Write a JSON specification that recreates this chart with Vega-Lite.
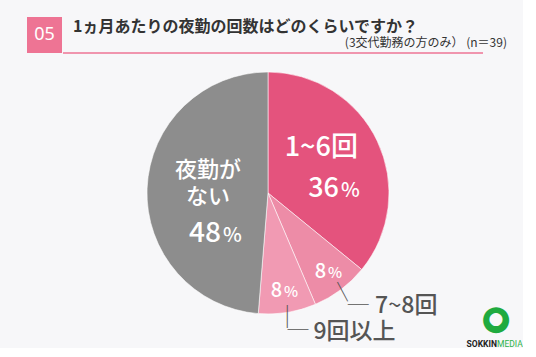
{
  "$schema": "https://vega.github.io/schema/vega-lite/v6.json",
  "background": "#f7f7f9",
  "padding": {"left": 27, "top": 17, "right": 0, "bottom": 0},
  "config": {"view": {"stroke": null}, "font": "Noto Sans CJK JP"},
  "datasets": {
    "answers": [
      {"category": "1~6回", "label": "1~6回", "count": 14, "percent": 36},
      {"category": "7~8回", "label": "7~8回", "count": 3, "percent": 8},
      {"category": "9回以上", "label": "9回以上", "count": 3, "percent": 8},
      {"category": "夜勤がない", "label": "夜勤が\nない", "count": 19, "percent": 48}
    ],
    "header": [
      {"no": "05", "question": "1ヵ月あたりの夜勤の回数はどのくらいですか？", "note": "(3交代勤務の方のみ） (n＝39)"}
    ],
    "brand": [{"a": "SOKKIN", "b": "MEDIA"}]
  },
  "spacing": 10,
  "vconcat": [
    {
      "spacing": 0,
      "hconcat": [
        {
          "width": 35,
          "height": 36,
          "view": {"fill": "#ee7494", "stroke": null},
          "data": {"name": "header"},
          "mark": {"type": "text", "color": "#ffffff", "fontSize": 18, "font": "Noto Sans", "baseline": "middle"},
          "encoding": {"text": {"field": "no"}}
        },
        {
          "width": 420,
          "height": 36,
          "data": {"name": "header"},
          "layer": [
            {
              "mark": {"type": "text", "align": "left", "baseline": "middle", "dx": -200, "dy": -8, "fontSize": 16, "fontWeight": "bold", "color": "#333333"},
              "encoding": {"text": {"field": "question"}}
            },
            {
              "mark": {"type": "text", "align": "right", "baseline": "middle", "dx": 234, "dy": 8, "fontSize": 12, "color": "#333333"},
              "encoding": {"text": {"field": "note"}}
            },
            {
              "mark": {"type": "rule", "color": "#ee7494", "strokeWidth": 1.5},
              "encoding": {"y": {"datum": 0, "type": "quantitative", "scale": {"domain": [0, 1]}, "axis": null}}
            }
          ]
        }
      ]
    },
    {
      "width": 482,
      "height": 258,
      "layer": [
        {
          "data": {"name": "answers"},
          "encoding": {
            "theta": {"field": "count", "type": "quantitative", "stack": true},
            "order": {"field": "category", "type": "ordinal", "sort": "ascending"}
          },
          "layer": [
            {
              "mark": {"type": "arc", "outerRadius": 121, "stroke": "#ffffff", "strokeWidth": 0.8, "strokeOpacity": 0.7},
              "encoding": {
                "color": {"field": "category", "type": "nominal", "scale": {"domain": ["1~6回", "7~8回", "9回以上", "夜勤がない"], "range": ["#e4537d", "#ed8ca7", "#f19ab3", "#8d8d8d"]}, "legend": null}
              }
            },
            {
              "mark": {"type": "text", "radius": 59, "dy": -20, "fontSize": 27, "font": "'Noto Sans CJK JP Medium', 'Noto Sans CJK JP'", "color": "#ffffff", "baseline": "middle"},
              "encoding": {
                "detail": {"field": "category"},
                "text": {"condition": {"test": "datum.category === '1~6回'", "field": "label"}, "value": ""}
              }
            },
            {
              "mark": {"type": "text", "radius": 60, "dy": -21, "fontSize": 22, "lineHeight": 27, "lineBreak": "\n", "font": "'Noto Sans CJK JP Medium', 'Noto Sans CJK JP'", "color": "#ffffff", "baseline": "middle"},
              "encoding": {
                "detail": {"field": "category"},
                "text": {"condition": {"test": "datum.category === '夜勤がない'", "field": "label"}, "value": ""}
              }
            },
            {
              "mark": {"type": "text", "radius": 78.6, "dy": 38, "fontSize": 27, "font": "'Noto Sans CJK JP Medium', 'Noto Sans CJK JP'", "color": "#ffffff", "align": "right", "baseline": "alphabetic"},
              "encoding": {
                "detail": {"field": "category"},
                "text": {"condition": {"test": "datum.category === '1~6回'", "field": "percent"}, "value": ""}
              }
            },
            {
              "mark": {"type": "text", "radius": 78.6, "dy": 38, "dx": 2, "fontSize": 20, "font": "'Noto Sans CJK JP Medium', 'Noto Sans CJK JP'", "color": "#ffffff", "align": "left", "baseline": "alphabetic"},
              "encoding": {
                "detail": {"field": "category"},
                "text": {"condition": {"test": "datum.category === '1~6回'", "value": "%"}, "value": ""}
              }
            },
            {
              "mark": {"type": "text", "radius": 47, "dy": 50.6, "fontSize": 28, "font": "'Noto Sans CJK JP Medium', 'Noto Sans CJK JP'", "color": "#ffffff", "align": "right", "baseline": "alphabetic"},
              "encoding": {
                "detail": {"field": "category"},
                "text": {"condition": {"test": "datum.category === '夜勤がない'", "field": "percent"}, "value": ""}
              }
            },
            {
              "mark": {"type": "text", "radius": 47, "dy": 50.6, "dx": 2, "fontSize": 20, "font": "'Noto Sans CJK JP Medium', 'Noto Sans CJK JP'", "color": "#ffffff", "align": "left", "baseline": "alphabetic"},
              "encoding": {
                "detail": {"field": "category"},
                "text": {"condition": {"test": "datum.category === '夜勤がない'", "value": "%"}, "value": ""}
              }
            },
            {
              "mark": {"type": "text", "radius": 100, "dx": -2, "dy": 5, "fontSize": 20, "font": "'Noto Sans CJK JP Medium', 'Noto Sans CJK JP'", "color": "#ffffff", "align": "right", "baseline": "alphabetic"},
              "encoding": {
                "detail": {"field": "category"},
                "text": {"condition": {"test": "datum.count < 10", "field": "percent"}, "value": ""}
              }
            },
            {
              "mark": {"type": "text", "radius": 100, "dx": 0, "dy": 5, "fontSize": 15, "font": "'Noto Sans CJK JP Medium', 'Noto Sans CJK JP'", "color": "#ffffff", "align": "left", "baseline": "alphabetic"},
              "encoding": {
                "detail": {"field": "category"},
                "text": {"condition": {"test": "datum.count < 10", "value": "%"}, "value": ""}
              }
            },
            {
              "mark": {"type": "text", "radius": 140, "dx": 23, "dy": 1, "fontSize": 23, "font": "'Noto Sans CJK JP Medium', 'Noto Sans CJK JP'", "color": "#555555", "align": "left", "baseline": "middle"},
              "encoding": {
                "detail": {"field": "category"},
                "text": {"condition": {"test": "datum.count < 10", "field": "label"}, "value": ""}
              }
            },
            {
              "mark": {"type": "text", "radius": 125, "fontSize": 22, "angle": -28, "color": "#555555", "align": "center", "baseline": "middle"},
              "encoding": {
                "detail": {"field": "category"},
                "text": {"condition": {"test": "datum.category === '7~8回'", "value": "│"}, "value": ""}
              }
            },
            {
              "mark": {"type": "text", "radius": 127, "dx": -1, "fontSize": 23, "angle": 0, "color": "#555555", "align": "center", "baseline": "middle"},
              "encoding": {
                "detail": {"field": "category"},
                "text": {"condition": {"test": "datum.category === '9回以上'", "value": "│"}, "value": ""}
              }
            },
            {
              "mark": {"type": "text", "radius": 137, "dx": 8, "dy": 3, "fontSize": 21, "color": "#555555", "align": "center", "baseline": "middle"},
              "encoding": {
                "detail": {"field": "category"},
                "text": {"condition": {"test": "datum.count < 10", "value": "─"}, "value": ""}
              }
            }
          ]
        },
        {
          "data": {"name": "brand"},
          "layer": [
            {"mark": {"type": "text", "text": "●", "font": "DejaVu Sans", "fontSize": 34, "color": "#1faa3f", "dx": 228, "dy": 125.5, "baseline": "middle", "align": "center"}},
            {"mark": {"type": "text", "text": "●", "font": "DejaVu Sans", "fontSize": 17, "color": "#f7f7f9", "dx": 228, "dy": 125.5, "baseline": "middle", "align": "center"}},
            {"mark": {"type": "text", "fontSize": 8.5, "fontWeight": "bold", "font": "Roboto", "color": "#222222", "dx": 229, "dy": 150.5, "align": "right", "baseline": "middle"}, "encoding": {"text": {"field": "a"}}},
            {"mark": {"type": "text", "fontSize": 8.5, "font": "Roboto", "color": "#2db34a", "dx": 229, "dy": 150.5, "align": "left", "baseline": "middle"}, "encoding": {"text": {"field": "b"}}}
          ]
        }
      ]
    }
  ]
}
